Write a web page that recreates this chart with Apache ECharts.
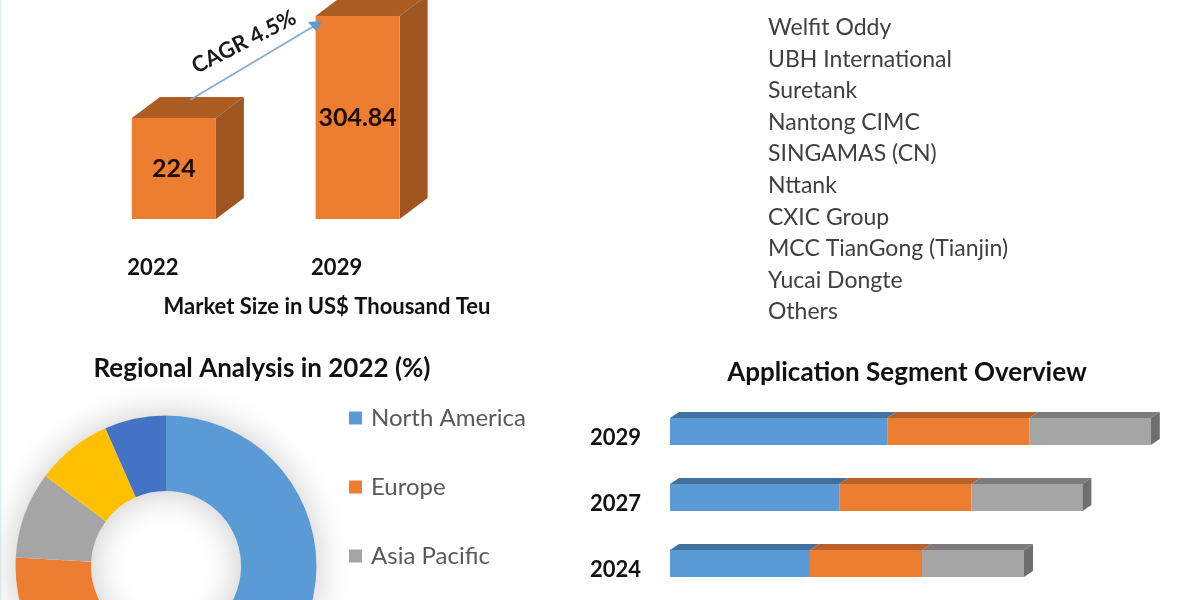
<!DOCTYPE html>
<html>
<head>
<meta charset="utf-8">
<style>html,body{margin:0;padding:0;background:#fff}#c{width:1200px;height:600px}</style>
<script src="https://cdn.jsdelivr.net/npm/echarts@6/dist/echarts.min.js"></script>
</head>
<body>
<div id="c"></div>
<script>
const marketYears = ['2022', '2029'];
const marketValues = [224, 304.84];
const companies = ['Welfit Oddy', 'UBH International', 'Suretank', 'Nantong CIMC', 'SINGAMAS (CN)', 'Nttank', 'CXIC Group', 'MCC TianGong (Tianjin)', 'Yucai Dongte', 'Others'];
const regions = ['North America', 'Europe', 'Asia Pacific', 'Middle East and Africa', 'South America'];
const regionShares = [60, 15.9, 9.3, 8.2, 6.6];
const legendRegions = ['North America', 'Europe', 'Asia Pacific'];
const segmentYears = ['2024', '2027', '2029'];
const segmentA = [35, 42.3, 54.3];
const segmentB = [28, 33, 35.5];
const segmentC = [25.5, 27.8, 30.4];

const FONT = 'Lato, "Open Sans", sans-serif';
const INK = '#111';

function quad(pts, fill) {
  return { type: 'polygon', shape: { points: pts }, style: { fill: fill } };
}

function renderBar3D(params, api) {
  const top = api.coord([api.value(0), api.value(1)]);
  const base = api.coord([api.value(0), 144]);
  const w = 84, dx = 28, dy = 21;
  const l = top[0] - w / 2, r = top[0] + w / 2, t = top[1], b = base[1];
  return {
    type: 'group',
    children: [
      quad([[l, t], [l + dx, t - dy], [r + dx, t - dy], [r, t]], '#AB5D24'),
      quad([[r, t], [r + dx, t - dy], [r + dx, b - dy], [r, b]], '#9E5520'),
      { type: 'rect', shape: { x: l, y: t, width: w, height: b - t }, style: { fill: '#ED7D31' } },
      { type: 'text', style: { text: String(api.value(1)), x: top[0], y: (t + b) / 2, align: 'center', verticalAlign: 'middle', fill: '#1d0c02', font: 'bold 25px ' + FONT } }
    ]
  };
}

function stackRender(front, topFace, endFace) {
  return function (params, api) {
    const s = api.coord([api.value(1), api.value(0)]);
    const e = api.coord([api.value(2), api.value(0)]);
    const h = 27, dx = 9, dy = 6;
    const t = s[1] - h / 2, b = s[1] + h / 2;
    const kids = [
      quad([[s[0], t], [s[0] + dx, t - dy], [e[0] + dx, t - dy], [e[0], t]], topFace),
      { type: 'rect', shape: { x: s[0], y: t, width: e[0] - s[0], height: h }, style: { fill: front } }
    ];
    if (endFace) {
      kids.push(quad([[e[0], t], [e[0] + dx, t - dy], [e[0] + dx, b - dy], [e[0], b]], endFace));
    }
    return { type: 'group', children: kids };
  };
}

function stackData(starts, widths) {
  return segmentYears.map((y, i) => [y, starts[i], starts[i] + widths[i]]);
}
const zeros = segmentYears.map(() => 0);
const startB = segmentA.slice();
const startC = segmentA.map((v, i) => v + segmentB[i]);

const companyText = companies.map((name, i) => ({
  type: 'text', left: 768, top: 12 + 4 + i * 31.6,
  style: { text: name, fill: '#404040', font: '23px ' + FONT }
}));

const chart = echarts.init(document.getElementById('c'), null, { renderer: 'canvas' });
chart.setOption({
  animation: false,
  backgroundColor: '#fff',
  title: [
    { text: 'Market Size in US$ Thousand Teu', left: 322, top: 291, textAlign: 'center', textStyle: { fontFamily: FONT, fontWeight: 'bold', fontSize: 22, color: INK } },
    { text: 'Regional Analysis in 2022 (%)', left: 257, top: 350.5, textAlign: 'center', textStyle: { fontFamily: FONT, fontWeight: 'bold', fontSize: 26, color: INK } },
    { text: 'Application Segment Overview', left: 902, top: 354.5, textAlign: 'center', textStyle: { fontFamily: FONT, fontWeight: 'bold', fontSize: 26, color: INK } }
  ],
  legend: {
    data: legendRegions, orient: 'vertical', left: 344, top: 401,
    itemWidth: 13, itemHeight: 13, itemGap: 45, icon: 'rect',
    textStyle: { fontFamily: FONT, fontSize: 24, color: '#595959', padding: [0, 0, 0, 4] }
  },
  grid: [
    { left: 82, width: 367.5, top: 0, height: 219 },
    { left: 670, width: 480, top: 398.5, height: 198 }
  ],
  xAxis: [
    { gridIndex: 0, type: 'category', data: marketYears, axisLine: { show: false }, axisTick: { show: false },
      axisLabel: { margin: 38, padding: [0, 42, 0, 0], fontFamily: FONT, fontWeight: 'bold', fontSize: 22, color: INK } },
    { gridIndex: 1, type: 'value', min: 0, max: 120, show: false }
  ],
  yAxis: [
    { gridIndex: 0, type: 'value', min: 144, max: 317.5, show: false },
    { gridIndex: 1, type: 'category', data: segmentYears, axisLine: { show: false }, axisTick: { show: false },
      axisLabel: { margin: 29, verticalAlign: 'top', lineHeight: 12, fontFamily: FONT, fontWeight: 'bold', fontSize: 22, color: INK } }
  ],
  series: [
    { type: 'custom', xAxisIndex: 0, yAxisIndex: 0, renderItem: renderBar3D, silent: true,
      data: marketYears.map((y, i) => [y, marketValues[i]]), encode: { x: 0, y: 1 } },
    { type: 'custom', xAxisIndex: 1, yAxisIndex: 1, renderItem: stackRender('#5B9BD5', '#41719C'), silent: true,
      data: stackData(zeros, segmentA), encode: { x: [1, 2], y: 0 } },
    { type: 'custom', xAxisIndex: 1, yAxisIndex: 1, renderItem: stackRender('#ED7D31', '#B8612A'), silent: true,
      data: stackData(startB, segmentB), encode: { x: [1, 2], y: 0 } },
    { type: 'custom', xAxisIndex: 1, yAxisIndex: 1, renderItem: stackRender('#A5A5A5', '#7C7C7C', '#6E6E6E'), silent: true,
      data: stackData(startC, segmentC), encode: { x: [1, 2], y: 0 } },
    { type: 'pie', silent: true, z: 1, center: [166, 566], radius: [75, 150.5], label: { show: false }, labelLine: { show: false },
      legendHoverLink: false, name: 'shadow',
      data: [{ value: 1, name: 'backdrop', itemStyle: { color: '#fff', shadowBlur: 34, shadowColor: 'rgba(0,0,0,0.22)' } }] },
    { type: 'pie', silent: true, z: 2, center: [166, 566], radius: [75, 150.5], startAngle: 90, clockwise: true,
      label: { show: false }, labelLine: { show: false },
      color: ['#5B9BD5', '#ED7D31', '#A5A5A5', '#FFC000', '#4472C4'],
      data: regions.map((n, i) => ({ name: n, value: regionShares[i] })) }
  ],
  graphic: [
    ...companyText,
    { type: 'rect', z: 0, shape: { x: 0, y: 0, width: 1.5, height: 600 }, style: { fill: '#e6f0f2' } },
    { type: 'line', z: 20, shape: { x1: 190, y1: 100, x2: 314, y2: 26 }, style: { stroke: '#7FA9D4', lineWidth: 1.5 } },
    { type: 'polygon', z: 20, shape: { points: [[322, 21], [308, 22], [316, 31]] }, style: { fill: '#5B9BD5' } },
    { type: 'text', z: 20, x: 244, y: 42, rotation: 27 * Math.PI / 180,
      style: { text: 'CAGR 4.5%', align: 'center', verticalAlign: 'middle', fill: '#1a1a1a', font: 'bold 22px ' + FONT } }
  ]
});
</script>
</body>
</html>
